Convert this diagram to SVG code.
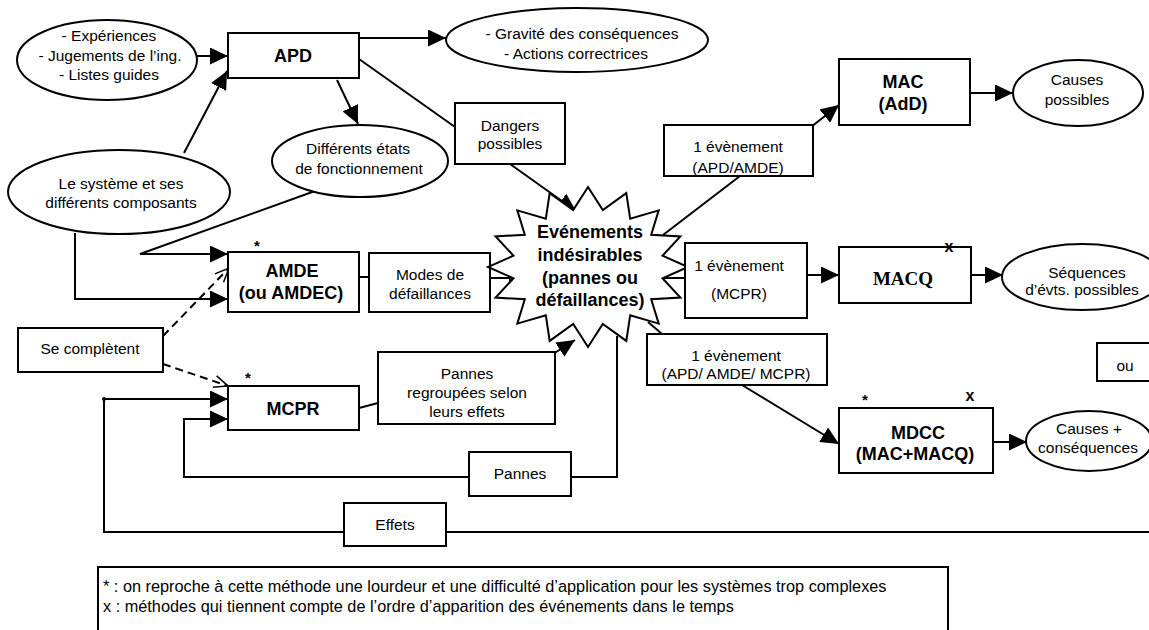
<svg xmlns="http://www.w3.org/2000/svg" width="1149" height="630" viewBox="0 0 1149 630">
<defs>
<style>
.bx{fill:#fff;stroke:#000;stroke-width:2}
.el{fill:#fff;stroke:#000;stroke-width:2}
.ln{fill:none;stroke:#000;stroke-width:2}
.ds{fill:none;stroke:#000;stroke-width:2;stroke-dasharray:8,5}
.t{font-family:"Liberation Sans",Arial,sans-serif;font-size:15.5px;fill:#000;text-anchor:middle}
.b{font-family:"Liberation Sans",Arial,sans-serif;font-size:18px;font-weight:bold;fill:#000;text-anchor:middle}
.s{font-family:"Liberation Serif","Times New Roman",serif;font-size:19px;font-weight:bold;fill:#000;text-anchor:middle}
.m{font-family:"Liberation Sans",Arial,sans-serif;font-size:15px;font-weight:bold;fill:#000;text-anchor:middle}
.lg{font-family:"Liberation Sans",Arial,sans-serif;font-size:16.3px;fill:#000}
</style>
<marker id="arr" markerUnits="userSpaceOnUse" markerWidth="18" markerHeight="17" viewBox="0 0 18 17" refX="18" refY="8.5" orient="auto">
<path d="M0,0 L18,8.5 L0,17 z" fill="#000"/>
</marker>
<marker id="open" markerUnits="userSpaceOnUse" markerWidth="16" markerHeight="14" viewBox="0 0 16 14" refX="15" refY="7" orient="auto">
<path d="M1,1 L15,7 L1,13" fill="none" stroke="#000" stroke-width="1.5"/>
</marker>
</defs>
<rect width="1149" height="630" fill="#fff"/>

<g id="connectors">
<line class="ln" x1="197" y1="56" x2="228" y2="56" marker-end="url(#arr)"/>
<line class="ln" x1="184" y1="153" x2="227" y2="71" marker-end="url(#arr)"/>
<line class="ln" x1="359" y1="38" x2="446" y2="38" marker-end="url(#arr)"/>
<line class="ln" x1="337" y1="80" x2="358" y2="124" marker-end="url(#arr)"/>
<line class="ln" x1="359" y1="59" x2="455" y2="127"/>
<line class="ln" x1="510" y1="164" x2="576" y2="211" marker-end="url(#arr)"/>
<polyline class="ln" points="315,191 140,254 228,254" marker-end="url(#arr)"/>
<polyline class="ln" points="75,233 75,299 228,299" marker-end="url(#arr)"/>
<line class="ds" x1="163" y1="336" x2="229" y2="268" marker-end="url(#open)"/>
<line class="ds" x1="163" y1="364" x2="228" y2="386" marker-end="url(#open)"/>
<line class="ln" x1="359" y1="277" x2="369" y2="277"/>
<line class="ln" x1="490" y1="278" x2="527" y2="278" marker-end="url(#arr)"/>
<line class="ln" x1="359" y1="408" x2="378" y2="403"/>
<line class="ln" x1="553" y1="354" x2="575" y2="340" marker-end="url(#arr)"/>
<line class="ln" x1="663" y1="235" x2="740" y2="176"/>
<line class="ln" x1="811" y1="127" x2="839" y2="105" marker-end="url(#arr)"/>
<line class="ln" x1="970" y1="93" x2="1013" y2="93" marker-end="url(#arr)"/>
<line class="ln" x1="662" y1="278" x2="685" y2="278"/>
<line class="ln" x1="807" y1="275" x2="839" y2="275" marker-end="url(#arr)"/>
<line class="ln" x1="971" y1="275" x2="1003" y2="275" marker-end="url(#arr)"/>
<line class="ln" x1="648" y1="322" x2="662" y2="334"/>
<line class="ln" x1="742" y1="385" x2="839" y2="444" marker-end="url(#arr)"/>
<line class="ln" x1="993" y1="442" x2="1027" y2="442" marker-end="url(#arr)"/>
<polyline class="ln" points="617,336 617,477 571,477"/>
<polyline class="ln" points="469,477 184,477 184,419 228,419" marker-end="url(#arr)"/>
<line class="ln" x1="1149" y1="532" x2="446" y2="532"/>
<polyline class="ln" points="344,532 104,532 104,399 228,399" marker-end="url(#arr)"/>
<circle cx="104" cy="399" r="2" fill="#000"/>
</g>

<g id="n-experiences">
<ellipse class="el" cx="107" cy="60" rx="90" ry="40"/>
<text class="t" x="109" y="41">- Expériences</text>
<text class="t" x="110" y="61">- Jugements de l’ing.</text>
<text class="t" x="109" y="80">- Listes guides</text>
</g>
<g id="n-apd">
<rect class="bx" x="228" y="33" width="131" height="45"/>
<text class="b" x="293" y="62">APD</text>
</g>
<g id="n-gravite">
<ellipse class="el" cx="577" cy="40" rx="131" ry="32"/>
<text class="t" x="582" y="38.5">- Gravité des conséquences</text>
<text class="t" x="576" y="58.5">- Actions correctrices</text>
</g>
<g id="n-etats">
<ellipse class="el" cx="360" cy="161" rx="88" ry="36"/>
<text class="t" x="358" y="153.5">Différents états</text>
<text class="t" x="359" y="173.5">de fonctionnement</text>
</g>
<g id="n-systeme">
<ellipse class="el" cx="119" cy="192" rx="111" ry="42"/>
<text class="t" x="121" y="188.5">Le système et ses</text>
<text class="t" x="121" y="207.5">différents composants</text>
</g>
<g id="n-dangers">
<rect class="bx" x="455" y="103" width="110" height="61"/>
<text class="t" x="510" y="130.5">Dangers</text>
<text class="t" x="510" y="148.5">possibles</text>
</g>
<g id="n-amde">
<rect class="bx" x="228" y="252" width="131" height="60"/>
<text class="m" x="257" y="250.5">*</text>
<text class="b" x="292" y="276.5">AMDE</text>
<text class="b" x="291" y="298.5">(ou AMDEC)</text>
</g>
<g id="n-modes">
<rect class="bx" x="369" y="253" width="121" height="59"/>
<text class="t" x="430" y="279.5">Modes de</text>
<text class="t" x="430" y="298.5">défaillances</text>
</g>
<g id="n-completent">
<rect class="bx" x="18" y="328" width="145" height="44"/>
<text class="t" x="90" y="353.5">Se complètent</text>
</g>
<g id="n-mcpr">
<rect class="bx" x="228" y="386" width="131" height="44"/>
<text class="m" x="248" y="382.5">*</text>
<text class="b" x="293" y="414.5">MCPR</text>
</g>
<g id="n-regroupees">
<rect class="bx" x="378" y="352" width="177" height="72"/>
<text class="t" x="467" y="378.5">Pannes</text>
<text class="t" x="467" y="397.5">regroupées selon</text>
<text class="t" x="467" y="416.5">leurs effets</text>
</g>
<g id="n-evenements">
<polygon class="bx" points="588,187 602.8,210.1 626.3,193.1 630.2,218.8 658.7,210.4 651.2,234.8 680.4,236.4 662.5,255.7 688,267 662.5,278.3 680.4,297.6 651.2,299.2 658.7,323.6 630.2,315.2 626.3,340.9 602.8,323.9 588,347 573.2,323.9 549.7,340.9 545.8,315.2 517.3,323.6 524.8,299.2 495.6,297.6 513.5,278.3 488,267 513.5,255.7 495.6,236.4 524.8,234.8 517.3,210.4 545.8,218.8 549.7,193.1 573.2,210.1"/>
<text class="b" x="590" y="238">Evénements</text>
<text class="b" x="590" y="261">indésirables</text>
<text class="b" x="590" y="284">(pannes ou</text>
<text class="b" x="590" y="306">défaillances)</text>
</g>
<g id="n-ev1">
<rect class="bx" x="664" y="125" width="149" height="51"/>
<text class="t" x="738" y="151.5">1 évènement</text>
<text class="t" x="738" y="172.5">(APD/AMDE)</text>
</g>
<g id="n-mac">
<rect class="bx" x="839" y="59" width="131" height="66"/>
<text class="b" x="903" y="87.5">MAC</text>
<text class="b" x="903" y="109.5">(AdD)</text>
</g>
<g id="n-causes">
<ellipse class="el" cx="1078" cy="93" rx="65" ry="33"/>
<text class="t" x="1077" y="84.5">Causes</text>
<text class="t" x="1077" y="104.5">possibles</text>
</g>
<g id="n-ev2">
<rect class="bx" x="685" y="243" width="122" height="75"/>
<text class="t" x="739" y="270.5">1 évènement</text>
<text class="t" x="739" y="298.5">(MCPR)</text>
</g>
<g id="n-macq">
<rect class="bx" x="839" y="247" width="132" height="56"/>
<text class="s" x="903" y="284.5">MACQ</text>
<text class="m" x="949" y="252" style="font-size:16px">x</text>
</g>
<g id="n-sequences">
<ellipse class="el" cx="1082" cy="277" rx="80" ry="33"/>
<text class="t" x="1087" y="277.5">Séquences</text>
<text class="t" x="1082" y="295">d’évts. possibles</text>
</g>
<g id="n-ou">
<rect class="bx" x="1097" y="343" width="60" height="38"/>
<text class="t" x="1125" y="370.5">ou</text>
</g>
<g id="n-ev3">
<rect class="bx" x="647" y="334" width="180" height="51"/>
<text class="t" x="736" y="360.5">1 évènement</text>
<text class="t" x="736" y="378.5">(APD/ AMDE/ MCPR)</text>
</g>
<g id="n-mdcc">
<rect class="bx" x="839" y="408" width="154" height="65"/>
<text class="m" x="865" y="404.5">*</text>
<text class="m" x="970" y="401" style="font-size:16px">x</text>
<text class="b" x="918" y="438.5">MDCC</text>
<text class="b" x="915" y="459.5">(MAC+MACQ)</text>
</g>
<g id="n-causes2">
<ellipse class="el" cx="1089" cy="441" rx="63" ry="30"/>
<text class="t" x="1089" y="433.5">Causes +</text>
<text class="t" x="1088" y="452.5">conséquences</text>
</g>
<g id="n-pannes">
<rect class="bx" x="469" y="452" width="102" height="44"/>
<text class="t" x="520" y="478.5">Pannes</text>
</g>
<g id="n-effets">
<rect class="bx" x="344" y="503" width="102" height="43"/>
<text class="t" x="395" y="530">Effets</text>
</g>
<g id="legend">
<rect class="bx" x="98" y="567" width="850" height="80"/>
<text class="lg" x="103" y="592">* : on reproche à cette méthode une lourdeur et une difficulté d’application pour les systèmes trop complexes</text>
<text class="lg" x="103" y="612">x : méthodes qui tiennent compte de l’ordre d’apparition des événements dans le temps</text>
</g>
</svg>
